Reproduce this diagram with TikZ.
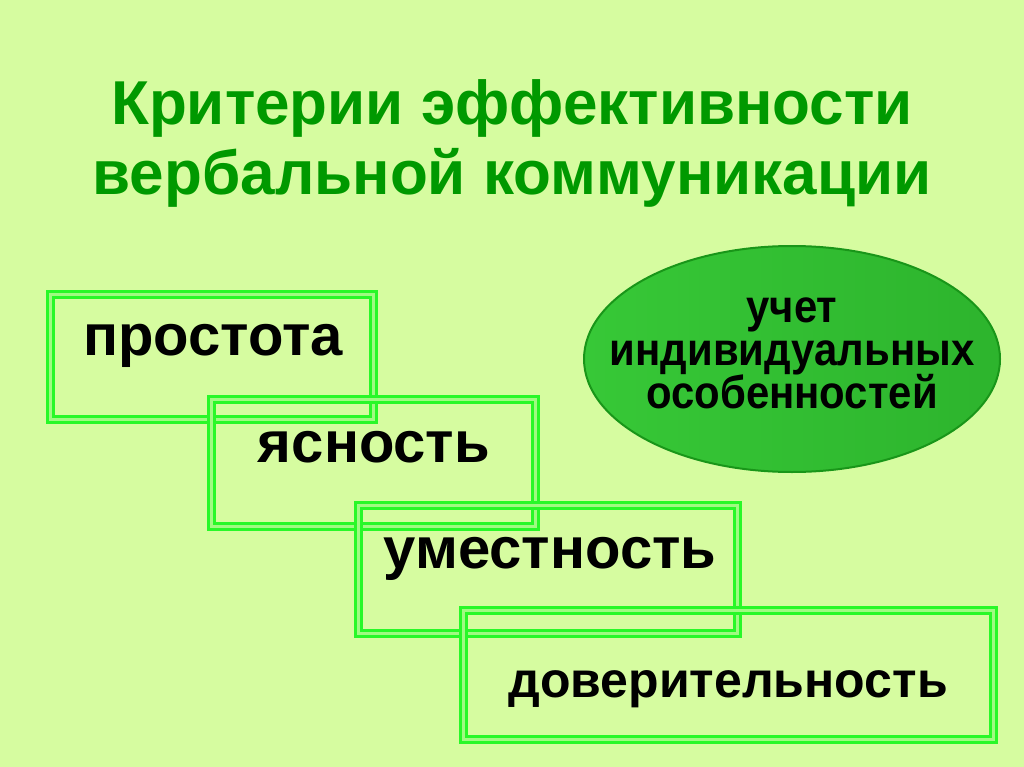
\documentclass[tikz,border=0pt]{standalone}
\usepackage{fontspec}
\usepackage{graphicx}
\setmainfont{Liberation Sans}
\usetikzlibrary{shapes.geometric}

\definecolor{bgfill}{RGB}{214,252,160}
\definecolor{titlegreen}{RGB}{0,153,0}
\definecolor{boxline}{RGB}{40,248,40}
\definecolor{boxcore}{RGB}{160,250,130}
\definecolor{ovalleft}{RGB}{55,200,55}
\definecolor{ovalright}{RGB}{45,180,45}
\definecolor{ovalline}{RGB}{25,150,25}

\newcommand{\ovaltext}[1]{\scalebox{0.91}[1]{#1}}

\tikzset{
	critbox/.style={draw=boxline, line width=2.75pt, double=boxcore, double distance=3.5pt, inner sep=0pt},
	crittext/.style={anchor=base, inner sep=0pt, font=\bfseries\fontsize{58}{58}\selectfont},
	ovaltxt/.style={anchor=base, inner sep=0pt, font=\bfseries\fontsize{46}{46}\selectfont},
	titletext/.style={anchor=base, inner sep=0pt, text=titlegreen, font=\bfseries\fontsize{62}{62}\selectfont}
}

\begin{document}
\begin{tikzpicture}[x=1pt,y=-1pt]
	\fill[bgfill] (0,0) rectangle (1024,767);
	\useasboundingbox (0,0) rectangle (1024,767);

	\node [titletext](T1) at (512,125) {Критерии эффективности};
	\node [titletext](T2) at (512,195) {вербальной коммуникации};

	% boxes
	\node [critbox, minimum width=323pt, minimum height=125pt](B1) at (212,357) {};
	\node [critbox, minimum width=324pt, minimum height=127pt](B2) at (373.5,463) {};
	\node [critbox, minimum width=379pt, minimum height=128pt](B3) at (548,569.5) {};
	\node [critbox, minimum width=530pt, minimum height=129pt](B4) at (728.5,675) {};

	\node [crittext](prostota) at (213,355) {простота};
	\node [crittext](yasnost) at (374,462) {ясность};
	\node [crittext](umestnost) at (550,568) {уместность};
	\node [crittext, font=\bfseries\fontsize{50}{50}\selectfont](doveritelnost) at (728,697) {доверительность};

	% oval
	\node [ellipse, draw=ovalline, line width=2pt, left color=ovalleft, right color=ovalright,
		minimum width=416pt, minimum height=226pt, inner sep=0pt](uchet) at (792,359) {};
	\node [ovaltxt](uchet1) at (792,322) {\ovaltext{учет}};
	\node [ovaltxt](uchet2) at (792,365) {\ovaltext{индивидуальных}};
	\node [ovaltxt](uchet3) at (792,408) {\ovaltext{особенностей}};
\end{tikzpicture}
\end{document}
